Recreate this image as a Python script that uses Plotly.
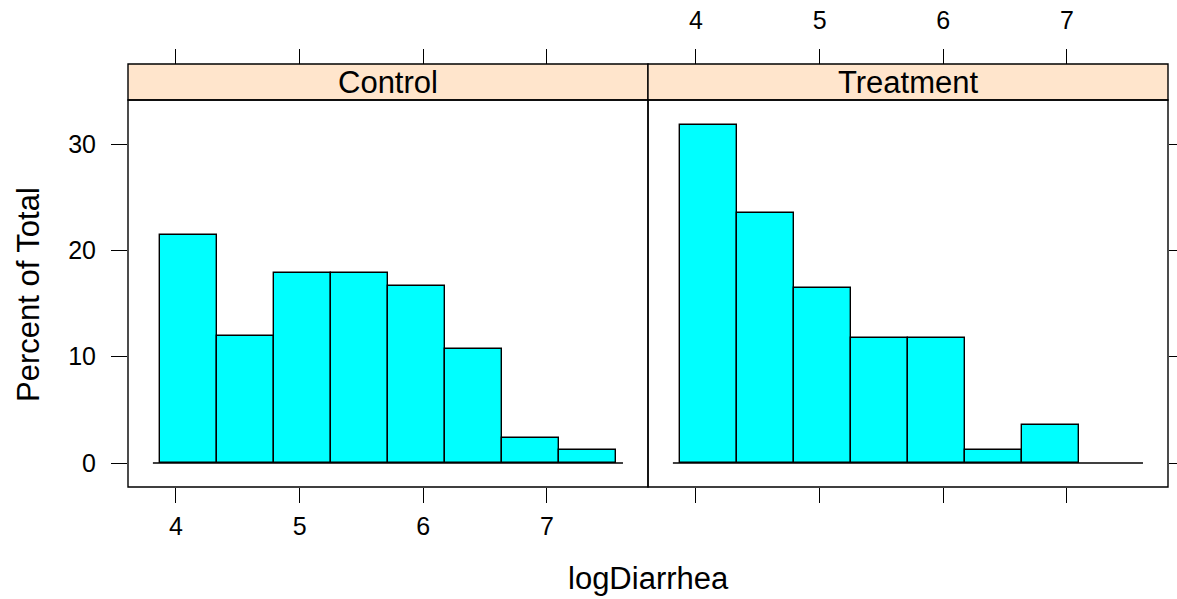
import plotly.graph_objects as go

# ---- data ----
panels = ["Control", "Treatment"]
bin_edges = [3.871, 4.332, 4.793, 5.254, 5.714, 6.175, 6.636, 7.097, 7.557]
control_pct = [21.43, 11.90, 17.86, 17.86, 16.67, 10.71, 2.38, 1.19]
treatment_pct = [31.76, 23.53, 16.47, 11.76, 11.76, 1.18, 3.53, 0.0]
x_ticks = [4, 5, 6, 7]
y_ticks = [0, 10, 20, 30]
x_title = "logDiarrhea"
y_title = "Percent of Total"

# ---- geometry (pixels) ----
W, H = 1177, 599
L, R, T, B = 128, 9, 64, 112
plot_h = H - T - B            # 423
strip_h = 36
panel_top = 1 - strip_h / plot_h

x_range = [3.612, 7.817]
y_range = [-2.257, 34.14]

FONT = "Liberation Sans, Arial, Helvetica, sans-serif"
tick_font = dict(family=FONT, size=25, color="black")
lab_font = dict(family=FONT, size=31, color="black")

centers = [(a + b) / 2 for a, b in zip(bin_edges[:-1], bin_edges[1:])]
widths = [b - a for a, b in zip(bin_edges[:-1], bin_edges[1:])]

fig = go.Figure()
for i, vals in enumerate([control_pct, treatment_pct]):
    xa = "x" if i == 0 else "x2"
    ya = "y" if i == 0 else "y2"
    xs = [c for c, v in zip(centers, vals) if v > 0]
    ws = [w for w, v in zip(widths, vals) if v > 0]
    vs = [v for v in vals if v > 0]
    fig.add_trace(go.Bar(x=xs, y=vs, width=ws, xaxis=xa, yaxis=ya,
                         marker=dict(color="#00FFFF", line=dict(color="black", width=1.4)),
                         showlegend=False, hoverinfo="skip"))
# dummy traces so overlay axes are drawn
for xa, ya in [("x3", "y"), ("x4", "y2"), ("x2", "y3")]:
    fig.add_trace(go.Scatter(x=[], y=[], xaxis=xa, yaxis=ya, showlegend=False))

common_x = dict(range=x_range, tickvals=x_ticks, ticks="outside", ticklen=15,
                tickwidth=1.3, tickcolor="black", showgrid=False, zeroline=False,
                showline=False, tickfont=tick_font, automargin=False)
common_y = dict(range=y_range, tickvals=y_ticks, showgrid=False, zeroline=False,
                showline=False, tickfont=tick_font, domain=[0, panel_top], automargin=False)

fig.update_layout(
    width=W, height=H, autosize=False,
    margin=dict(l=L, r=R, t=T, b=B, pad=0, autoexpand=False),
    plot_bgcolor="white", paper_bgcolor="white",
    bargap=0,
    xaxis=dict(domain=[0, 0.5], anchor="y", ticklabelstandoff=2, **common_x),
    xaxis2=dict(domain=[0.5, 1], anchor="y2", showticklabels=False, **common_x),
    xaxis3=dict(domain=[0, 0.5], overlaying="x", side="top", anchor="free", position=1,
                showticklabels=False, **common_x),
    xaxis4=dict(domain=[0.5, 1], overlaying="x2", side="top", anchor="free", position=1,
                showticklabels=True, ticklabelstandoff=10, **common_x),
    yaxis=dict(anchor="x", ticks="outside", ticklen=16, tickwidth=1.3, tickcolor="black",
               ticklabelstandoff=10, **common_y),
    yaxis2=dict(anchor="x2", ticks="", showticklabels=False, **common_y),
    yaxis3=dict(anchor="x2", overlaying="y2", side="right", ticks="outside", ticklen=16,
                tickwidth=1.3, tickcolor="black", showticklabels=False, **common_y),
)

shapes = []
annotations = []
ext = 0.125 * widths[0]
for i, name in enumerate(panels):
    xd = "x domain" if i == 0 else "x2 domain"
    yd = "y domain" if i == 0 else "y2 domain"
    xr = "x" if i == 0 else "x2"
    yr = "y" if i == 0 else "y2"
    # baseline
    shapes.append(dict(type="line", xref=xr, yref=yr, x0=bin_edges[0] - ext,
                       x1=bin_edges[-1] + ext, y0=0, y1=0,
                       line=dict(color="black", width=1.6)))
    # panel border
    shapes.append(dict(type="rect", xref=xd, yref=yd, x0=0, x1=1, y0=0, y1=1,
                       line=dict(color="black", width=1.4), layer="above"))
    # strip
    shapes.append(dict(type="rect", xref=xd, yref="paper", x0=0, x1=1, y0=panel_top, y1=1,
                       fillcolor="#FFE5CC", line=dict(color="black", width=1.4), layer="below"))
    annotations.append(dict(text=name, xref=xd, yref="paper", x=0.5,
                            y=(panel_top + 1) / 2, showarrow=False,
                            xanchor="center", yanchor="middle", font=lab_font))

annotations.append(dict(text=x_title, xref="paper", yref="paper", x=0.5,
                        y=(487 - 578) / plot_h, showarrow=False, xanchor="center",
                        yanchor="middle", font=lab_font))
annotations.append(dict(text=y_title, xref="paper", yref="paper", x=(28 - L) / 1040,
                        y=(487 - 295) / plot_h, showarrow=False, textangle=-90,
                        xanchor="center", yanchor="middle", font=lab_font))
fig.update_layout(shapes=shapes, annotations=annotations)

post = ("document.body.style.margin='0';document.body.style.overflow='hidden';"
        "var gd=document.getElementById('{plot_id}');"
        "gd.style.width='1177px';gd.style.height='599px';"
        "Plotly.relayout(gd,{width:1177,height:599});")
fig.write_html("out.html", config={"responsive": False, "displayModeBar": False},
               post_script=post)
